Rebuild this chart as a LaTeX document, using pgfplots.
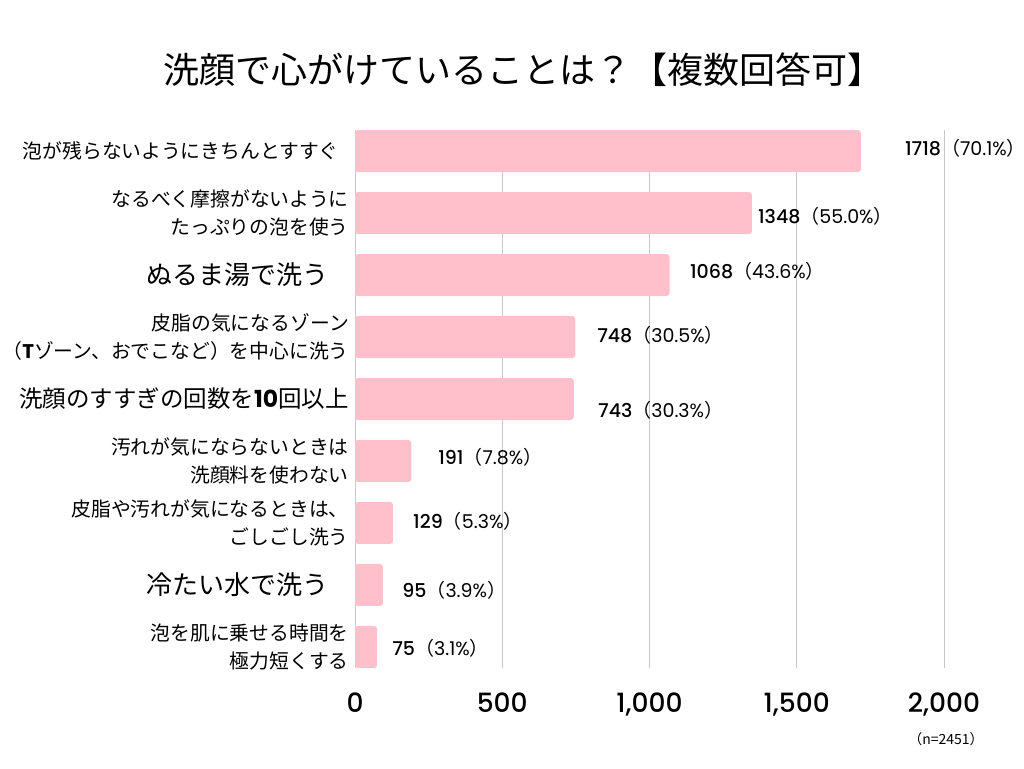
\documentclass[border=0pt]{standalone}
\usepackage{fontspec}
\usepackage{pgfplots}
\pgfplotsset{compat=1.18}
\setmainfont{Noto Sans CJK JP}
\newfontfamily\pop{Poppins}
\newfontfamily\popm{Poppins Medium}
\definecolor{barpink}{HTML}{FFC0CB}
\definecolor{gridgray}{HTML}{C8C8C8}
\newcommand{\vl}[2]{{\fontsize{19}{20}\selectfont{\popm #1}（{\pop #2\%}）}}
\newcommand{\biglab}[1]{{\fontsize{26}{30}\selectfont #1}}
\begin{document}
\begin{tikzpicture}
\path[use as bounding box] (0,0) rectangle (1024pt,768pt);
\node at (523pt,698pt) {\fontsize{36}{40}\selectfont 洗顔で心がけていることは？【複数回答可】};
\begin{axis}[
  at={(355pt,100pt)}, anchor=south west, scale only axis,
  width=589pt, height=538pt,
  xmin=0, xmax=2000, ymin=-0.34, ymax=8.34, y dir=reverse,
  axis line style={draw=none},
  major tick length=0pt,
  xtick={0,500,1000,1500,2000},
  xticklabels={0,500,{1,000},{1,500},{2,000}},
  xticklabel style={font=\popm\fontsize{26.5}{30}\selectfont, inner sep=0pt, yshift=-25pt},
  ytick={0,1,2,3,4,5,6,7,8},
  yticklabels={
    {泡が残らないようにきちんとすすぐ\kern10pt},
    {なるべく摩擦がないように\\たっぷりの泡を使う},
    {\biglab{ぬるま湯で洗う\kern20pt}},
    {皮脂の気になるゾーン\\（{\bfseries\pop T}ゾーン、おでこなど）を中心に洗う},
    {{\fontsize{23.5}{28}\selectfont 洗顔のすすぎの回数を{\pop\bfseries 10}回以上}},
    {汚れが気にならないときは\\洗顔料を使わない},
    {皮脂や汚れが気になるときは、\\ごしごし洗う},
    {\biglab{冷たい水で洗う\kern20pt}},
    {泡を肌に乗せる時間を\\極力短くする}
  },
  yticklabel style={font=\fontsize{19.8}{28}\selectfont, align=right, inner sep=0pt, xshift=-6pt},
  xmajorgrids, grid style={gridgray, line width=1pt},
  clip=false,
]
\addplot[xbar, bar width=42pt, fill=barpink, draw=none, rounded corners=3pt]
  coordinates {(1718,0) (1348,1) (1068,2) (748,3) (743,4) (191,5) (129,6) (95,7) (75,8)};
\node[anchor=west, inner sep=0pt] at (axis cs:1867,-0.05) {\vl{1718}{70.1}};
\node[anchor=west, inner sep=0pt] at (axis cs:1368,1.06) {\vl{1348}{55.0}};
\node[anchor=west, inner sep=0pt] at (axis cs:1137,1.94) {\vl{1068}{43.6}};
\node[anchor=west, inner sep=0pt] at (axis cs:822,2.97) {\vl{748}{30.5}};
\node[anchor=west, inner sep=0pt] at (axis cs:825,4.18) {\vl{743}{30.3}};
\node[anchor=west, inner sep=0pt] at (axis cs:282,4.94) {\vl{191}{7.8}};
\node[anchor=west, inner sep=0pt] at (axis cs:197,5.97) {\vl{129}{5.3}};
\node[anchor=west, inner sep=0pt] at (axis cs:160,7.08) {\vl{95}{3.9}};
\node[anchor=west, inner sep=0pt] at (axis cs:126,8.02) {\vl{75}{3.1}};
\end{axis}
\node at (946pt,29pt) {\fontsize{14}{16}\selectfont （n=2451）};
\end{tikzpicture}
\end{document}
